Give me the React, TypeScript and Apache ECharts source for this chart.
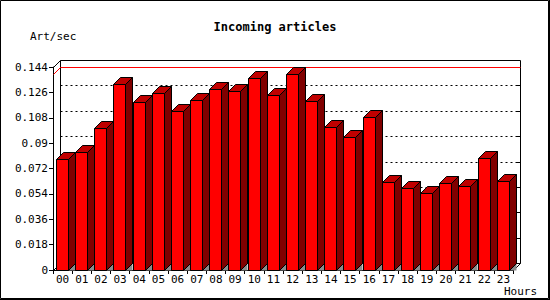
import React, { useEffect, useRef } from 'react';
import * as echarts from 'echarts';

const hours = ['00', '01', '02', '03', '04', '05', '06', '07', '08', '09', '10', '11',
  '12', '13', '14', '15', '16', '17', '18', '19', '20', '21', '22', '23'];
const articlesPerSec = [0.0785, 0.0835, 0.1005, 0.1317, 0.119, 0.1253, 0.1128, 0.1206,
  0.1284, 0.1268, 0.136, 0.1239, 0.139, 0.1197, 0.1012, 0.0941, 0.1083, 0.0622,
  0.058, 0.0544, 0.0615, 0.0594, 0.0792, 0.0629];
const yTicks = [0, 0.018, 0.036, 0.054, 0.072, 0.09, 0.108, 0.126, 0.144];

const DX = 7;
const DY = 7;
const FONT = 'DejaVu Sans Mono';
const px = (v: number) => Math.round(v) + 0.5;

export default function App() {
  const ref = useRef<HTMLDivElement>(null);
  useEffect(() => {
    const chart = echarts.init(ref.current!, null, { renderer: 'svg' });
    const yMin = yTicks[0];
    const yMax = yTicks[yTicks.length - 1];
    const peak = Math.max(...articlesPerSec);

    const wallItem = (params: any, api: any) => {
      const cs = params.coordSys;
      const left = cs.x, right = cs.x + cs.width, top = cs.y, bottom = cs.y + cs.height;
      const children: any[] = [];
      children.push({
        type: 'rect',
        shape: { x: px(left + DX), y: px(top - DY), width: Math.round(right - left), height: Math.round(bottom - top) },
        style: { fill: '#fff', stroke: '#000', lineWidth: 1 },
      });
      yTicks.forEach((v) => {
        if (v <= yMin || v >= yMax) return;
        const y = px(api.coord([0, v])[1] - DY);
        children.push({
          type: 'line',
          shape: { x1: px(left + DX), y1: y, x2: px(right + DX), y2: y },
          style: { stroke: '#000', lineWidth: 1, lineDash: [2, 3] },
        });
        children.push({
          type: 'line',
          shape: { x1: px(right + DX - 4), y1: y, x2: px(right + DX), y2: y },
          style: { stroke: '#000', lineWidth: 1 },
        });
      });
      const yp = api.coord([0, peak])[1];
      children.push({
        type: 'polyline',
        shape: { points: [[px(left), px(yp)], [px(left + DX), px(yp - DY)], [px(right + DX), px(yp - DY)]] },
        style: { stroke: '#ff0000', lineWidth: 1, fill: 'none' },
      });
      const diag = (x: number, y: number) => ({
        type: 'line',
        shape: { x1: px(x), y1: px(y), x2: px(x + DX), y2: px(y - DY) },
        style: { stroke: '#000', lineWidth: 1 },
      });
      children.push(diag(left, top), diag(left, bottom), diag(right, bottom));
      return { type: 'group', children };
    };

    const barItem = (params: any, api: any) => {
      const i = api.value(0);
      const v = api.value(1);
      const pTop = api.coord([i, v]);
      const pBot = api.coord([i, 0]);
      const bw = api.size([1, 0])[0];
      const x0 = px(pTop[0] - bw * 0.35);
      const x1 = x0 + 12;
      const yt = px(pTop[1]);
      const yb = px(pBot[1]);
      return {
        type: 'group',
        children: [
          {
            type: 'polygon',
            shape: { points: [[x1, yb], [x1 + DX, yb - DY], [x1 + DX, yb]] },
            style: { fill: '#8c8c8c', stroke: 'none' },
          },
          {
            type: 'polygon',
            shape: { points: [[x0, yt], [x0 + DX, yt - DY], [x1 + DX, yt - DY], [x1, yt]] },
            style: { fill: '#c00000', stroke: '#000', lineWidth: 1 },
          },
          {
            type: 'polygon',
            shape: { points: [[x1, yt], [x1 + DX, yt - DY], [x1 + DX, yb - DY], [x1, yb]] },
            style: { fill: '#800000', stroke: '#000', lineWidth: 1 },
          },
          {
            type: 'rect',
            shape: { x: x0, y: yt, width: x1 - x0, height: yb - yt },
            style: { fill: '#ff0000', stroke: '#000', lineWidth: 1 },
          },
        ],
      };
    };

    chart.setOption({
      animation: false,
      backgroundColor: '#fff',
      title: {
        text: 'Incoming articles',
        left: 'center',
        top: 16,
        textStyle: { fontFamily: FONT, fontWeight: 'bold', fontSize: 12, color: '#000' },
      },
      grid: { left: 53, right: 37, top: 67, bottom: 30 },
      xAxis: {
        type: 'category',
        data: hours,
        boundaryGap: true,
        axisLine: { lineStyle: { color: '#000', width: 1 } },
        axisTick: { show: true, interval: 0, alignWithLabel: false, length: 4, lineStyle: { color: '#000' } },
        axisLabel: { interval: 0, margin: 4, color: '#000', fontFamily: FONT, fontSize: 11 },
        splitLine: { show: false },
      },
      yAxis: {
        type: 'value',
        min: yMin,
        max: yMax,
        interval: yTicks[1] - yTicks[0],
        axisLine: { show: true, lineStyle: { color: '#000', width: 1 } },
        axisTick: { show: true, length: 4, lineStyle: { color: '#000' } },
        axisLabel: {
          margin: 5,
          color: '#000',
          fontFamily: FONT,
          fontSize: 11,
          formatter: (val: number) => String(+val.toFixed(3)),
        },
        splitLine: { show: false },
      },
      graphic: [
        {
          type: 'rect',
          shape: { x: 0.5, y: 0.5, width: 548, height: 298 },
          style: { fill: 'none', stroke: '#000', lineWidth: 1 },
          z: 100,
        },
        { type: 'line', shape: { x1: 549.5, y1: 0, x2: 549.5, y2: 300 }, style: { stroke: '#000', lineWidth: 1 }, z: 100 },
        { type: 'line', shape: { x1: 0, y1: 299.5, x2: 550, y2: 299.5 }, style: { stroke: '#000', lineWidth: 1 }, z: 100 },
        {
          type: 'text',
          left: 30,
          top: 31,
          style: { text: 'Art/sec', fontFamily: FONT, fontSize: 11, fill: '#000' },
        },
        {
          type: 'text',
          left: 504,
          top: 286,
          style: { text: 'Hours', fontFamily: FONT, fontSize: 11, fill: '#000' },
        },
      ],
      series: [
        {
          type: 'custom',
          name: 'wall',
          silent: true,
          z: 1,
          renderItem: wallItem,
          data: [[0, 0]],
        },
        {
          type: 'custom',
          name: 'Art/sec',
          z: 2,
          renderItem: barItem,
          data: articlesPerSec.map((v, i) => [i, v]),
        },
      ],
    });
    return () => chart.dispose();
  }, []);
  return <div ref={ref} style={{ position: 'absolute', left: 0, top: 0, width: 550, height: 300 }} />;
}
